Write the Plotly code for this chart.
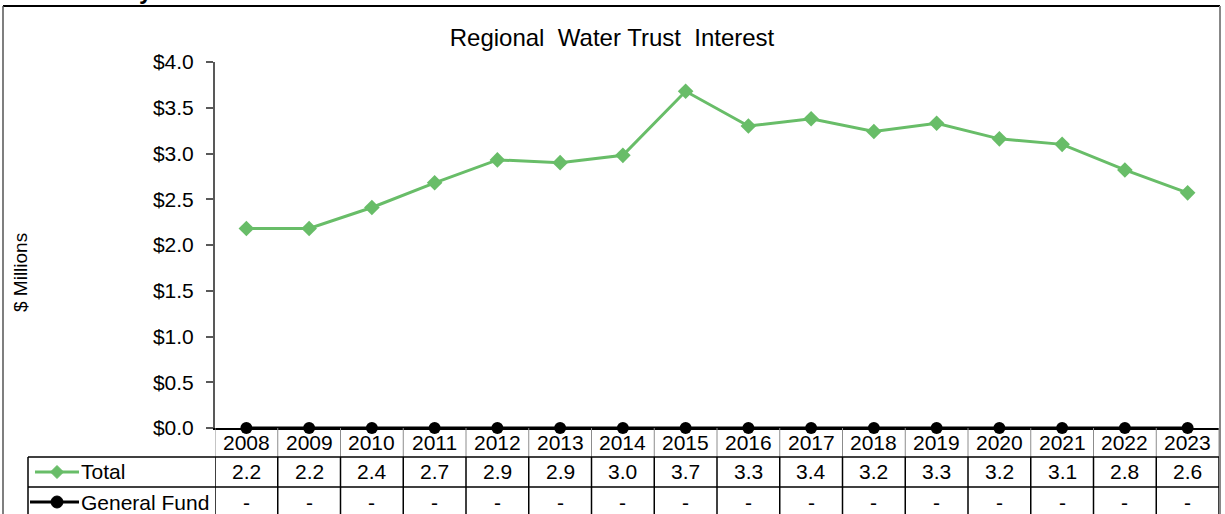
import plotly.graph_objects as go

years = ["2008", "2009", "2010", "2011", "2012", "2013", "2014", "2015",
         "2016", "2017", "2018", "2019", "2020", "2021", "2022", "2023"]
total = [2.18, 2.18, 2.41, 2.68, 2.93, 2.90, 2.98, 3.68,
         3.30, 3.38, 3.24, 3.33, 3.16, 3.10, 2.82, 2.57]
general_fund = [0, 0, 0, 0, 0, 0, 0, 0, 0, 0, 0, 0, 0, 0, 0, 0]
y_ticks = [0, 0.5, 1.0, 1.5, 2.0, 2.5, 3.0, 3.5, 4.0]

GREEN = "#68BD68"
FONT = "Liberation Sans, Arial, sans-serif"
FS = 21
W, H = 1225, 514
ML, MR, MT, MB = 215, 6, 62, 86
PW = W - ML - MR
PH = H - MT - MB


def py(px):
    """pixel y (from top) -> paper y"""
    return (H - MB - px) / PH


def pxx(px):
    """pixel x -> paper x"""
    return (px - ML) / PW


fig = go.Figure()
fig.add_trace(go.Scatter(x=years, y=total, mode="lines+markers", name="Total",
                         line=dict(color=GREEN, width=3),
                         marker=dict(symbol="diamond", size=12, color=GREEN),
                         cliponaxis=False))
fig.add_trace(go.Scatter(x=years, y=general_fund, mode="lines+markers", name="General Fund",
                         line=dict(color="black", width=3),
                         marker=dict(symbol="circle", size=12, color="black"),
                         cliponaxis=False))

shapes = []
annotations = []

# outer frame
shapes.append(dict(type="line", xref="paper", yref="paper", x0=pxx(3), x1=pxx(1220),
                   y0=py(6), y1=py(6), line=dict(color="black", width=2)))
shapes.append(dict(type="line", xref="paper", yref="paper", x0=pxx(3), x1=pxx(3),
                   y0=py(6), y1=py(520), line=dict(color="#555555", width=1.5)))
shapes.append(dict(type="line", xref="paper", yref="paper", x0=pxx(1220), x1=pxx(1220),
                   y0=py(6), y1=py(520), line=dict(color="#888888", width=2)))

# data table grid
n = len(years)
y_hdr_bot = py(457)
y_tot_bot = py(487)
y_end = py(520)
for i in range(n + 1):
    xv = i - 0.5
    shapes.append(dict(type="line", xref="x", yref="paper", x0=xv, x1=xv,
                       y0=0, y1=y_hdr_bot, line=dict(color="#8c8c8c", width=1)))
    shapes.append(dict(type="line", xref="x", yref="paper", x0=xv, x1=xv,
                       y0=y_hdr_bot, y1=y_end, line=dict(color="black", width=1.5)))
for yy in (y_hdr_bot, y_tot_bot):
    shapes.append(dict(type="line", xref="paper", yref="paper", x0=pxx(28), x1=1,
                       y0=yy, y1=yy, line=dict(color="black", width=1.5)))
shapes.append(dict(type="line", xref="paper", yref="paper", x0=pxx(28), x1=pxx(28),
                   y0=y_hdr_bot, y1=y_end, line=dict(color="black", width=1.5)))

# table header (years), value rows
row_hdr_y = py(442)
row_total_y = py(472)
row_gf_y = py(502)
for i in range(n):
    annotations.append(dict(x=i, y=row_hdr_y, xref="x", yref="paper",
                            text=years[i], showarrow=False,
                            xanchor="center", yanchor="middle",
                            font=dict(size=FS, color="black", family=FONT)))
    annotations.append(dict(x=i, y=row_total_y, xref="x", yref="paper",
                            text=f"{total[i]:.1f}", showarrow=False,
                            xanchor="center", yanchor="middle",
                            font=dict(size=FS, color="black", family=FONT)))
    gf = general_fund[i]
    annotations.append(dict(x=i, y=row_gf_y, xref="x", yref="paper",
                            text="-" if gf == 0 else f"{gf:.1f}", showarrow=False,
                            xanchor="center", yanchor="middle",
                            font=dict(size=FS, color="black", family=FONT)))

# legend keys inside the table
def diamond_path(cx, cy, r):
    pts = [(cx, cy - r), (cx + r, cy), (cx, cy + r), (cx - r, cy)]
    return "M " + " L ".join(f"{pxx(x)},{py(y)}" for x, y in pts) + " Z"

for name, color, yk_px, x0 in (("Total", GREEN, 472, 35), ("General Fund", "black", 502, 30)):
    shapes.append(dict(type="line", xref="paper", yref="paper", x0=pxx(x0), x1=pxx(79),
                       y0=py(yk_px), y1=py(yk_px), line=dict(color=color, width=3)))
    annotations.append(dict(x=pxx(79), y=py(yk_px), xref="paper", yref="paper", text=name,
                            xanchor="left", yanchor="middle", showarrow=False,
                            font=dict(size=FS, color="black", family=FONT)))
shapes.append(dict(type="path", xref="paper", yref="paper", path=diamond_path(57, 472, 6.5),
                   fillcolor=GREEN, line=dict(color=GREEN, width=1)))
shapes.append(dict(type="circle", xref="paper", yref="paper",
                   x0=pxx(51), x1=pxx(63), y0=py(508), y1=py(496),
                   fillcolor="black", line=dict(color="black", width=1)))

# cut-off heading descender at the very top
annotations.append(dict(x=pxx(146), y=py(-10), xref="paper", yref="paper", text="<b>y</b>",
                        showarrow=False, xanchor="center", yanchor="middle",
                        font=dict(size=24, color="black", family=FONT)))

# y axis title
annotations.append(dict(x=pxx(20), y=py(273), xref="paper", yref="paper", text="$ Millions",
                        textangle=-90, showarrow=False, xanchor="center", yanchor="middle",
                        font=dict(size=19, color="black", family=FONT)))

fig.update_layout(
    width=W, height=H,
    margin=dict(l=ML, r=MR, t=MT, b=MB),
    paper_bgcolor="white", plot_bgcolor="white",
    showlegend=False,
    title=dict(text="Regional  Water Trust  Interest", x=pxx(612), xanchor="center",
               y=1 - 38 / H, yanchor="middle", xref="paper",
               font=dict(size=24, color="black", family=FONT)),
    xaxis=dict(type="category", range=[-0.5, n - 0.5], showgrid=False,
               showline=True, linecolor="black", linewidth=2, ticks="",
               showticklabels=False, zeroline=False, fixedrange=True),
    yaxis=dict(range=[0, 4], tickvals=y_ticks, tickformat="$.1f",
               showgrid=False, showline=True, linecolor="#595959", linewidth=2,
               ticks="outside", ticklen=7, tickcolor="#595959", tickwidth=1.5,
               ticklabelstandoff=8,
               tickfont=dict(size=FS, color="black", family=FONT),
               zeroline=False, fixedrange=True),
    shapes=shapes,
    annotations=annotations,
)

fig.write_html("out.html", config={"displayModeBar": False},
               post_script="document.body.style.margin='0';")
